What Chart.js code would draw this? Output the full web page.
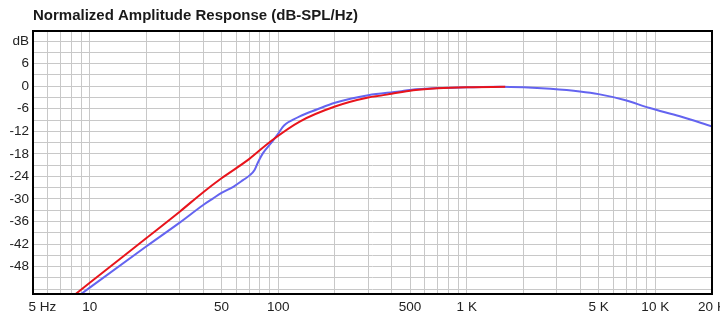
<!DOCTYPE html>
<html>
<head>
<meta charset="utf-8">
<script src="https://cdn.jsdelivr.net/npm/chart.js@4.4.1/dist/chart.umd.min.js"></script>
<style>
  html, body { margin: 0; padding: 0; background: #fff; }
</style>
</head>
<body>
<canvas id="ampChart" width="720" height="313"></canvas>
<script>
// red curve (Hz / dB)
var redFreq = [8, 10, 20, 30, 40, 50, 70, 92, 130, 200, 300, 350, 400, 520, 700, 1000, 1600];
var redDb = [-56.2, -52.3, -40.4, -33.4, -28.2, -24.5, -19.4, -14.5, -9.4, -5.4, -3.0, -2.5, -2.0, -1.1, -0.55, -0.25, -0.15];

// blue curve (Hz / dB)
var blueFreq = [8, 10, 20, 30, 40, 45, 50, 58, 65, 71, 75, 78, 83, 92, 100, 105, 110, 120, 130, 160, 200, 300, 440, 500, 700, 1000, 1500, 2000, 2780, 3980, 5000, 6800, 9350, 13500, 20000];
var blueDb = [-57.2, -53.6, -42.6, -36.3, -31.6, -29.9, -28.4, -26.7, -25.0, -23.6, -22.2, -20.3, -17.8, -15.0, -12.6, -11.0, -10.0, -8.9, -8.0, -6.2, -4.4, -2.4, -1.4, -1.0, -0.5, -0.3, -0.15, -0.3, -0.7, -1.4, -2.1, -3.6, -5.8, -8.0, -10.7];

// x axis grid / labels
var xTickVals = [5, 6, 7, 8, 9, 10, 20, 30, 40, 50, 60, 70, 80, 90, 100, 200, 300, 400, 500, 600, 700, 800, 900,
  1000, 2000, 3000, 4000, 5000, 6000, 7000, 8000, 9000, 10000, 20000];
var xTickLabels = ["     5 Hz", "", "", "", "", "10", "", "", "", "50", "", "", "", "", "100", "", "", "", "500", "", "", "", "",
  "1 K", "", "", "", "5 K", "", "", "", "", "10 K", "20 K"];

// y axis grid / labels
var yTickVals = [12, 9, 6, 3, 0, -3, -6, -9, -12, -15, -18, -21, -24, -27, -30, -33, -36, -39, -42, -45, -48, -51, -54];
var yTickLabels = ["dB", "", "6", "", "0", "", "-6", "", "-12", "", "-18", "", "-24", "", "-30", "", "-36", "", "-42", "", "-48", "", ""];

function toPoints(fs, ds) {
  return fs.map(function (f, i) { return { x: f, y: ds[i] }; });
}

// black box round the plot, title lined up with it
var framePlugin = {
  id: "frame",
  afterLayout: function (chart) {
    if (chart.titleBlock) chart.titleBlock.left = 33;
  },
  afterDatasetsDraw: function (chart) {
    var a = chart.chartArea, ctx = chart.ctx;
    ctx.save();
    ctx.strokeStyle = "#000";
    ctx.lineWidth = 2;
    ctx.strokeRect(a.left, a.top, a.right - a.left, a.bottom - a.top);
    ctx.restore();
  }
};

var tickFont = { family: "Liberation Sans, Arial, sans-serif", size: 13.5 };

var ctx = document.getElementById("ampChart").getContext("2d");
var ampChart = new Chart(ctx, {
  type: "line",
  data: {
    datasets: [
      {
        label: "red",
        data: toPoints(redFreq, redDb),
        borderColor: "#e8141c",
        borderWidth: 2,
        pointRadius: 0,
        cubicInterpolationMode: "monotone",
        order: 1
      },
      {
        label: "blue",
        data: toPoints(blueFreq, blueDb),
        borderColor: "#6464f0",
        borderWidth: 2,
        pointRadius: 0,
        cubicInterpolationMode: "monotone",
        order: 2
      }
    ]
  },
  options: {
    responsive: false,
    animation: false,
    events: [],
    layout: { padding: { left: 0, right: 8, top: 0, bottom: 0 } },
    plugins: {
      legend: { display: false },
      tooltip: { enabled: false },
      title: {
        display: true,
        text: "Normalized Amplitude Response (dB-SPL/Hz)",
        align: "start",
        color: "#1a1a1a",
        font: { family: "Liberation Sans, Arial, sans-serif", size: 15, weight: "bold" },
        padding: { top: 7, bottom: 6 }
      }
    },
    scales: {
      x: {
        type: "logarithmic",
        min: 5,
        max: 20000,
        border: { display: false },
        grid: { color: "#c8c8c8", lineWidth: 1, drawTicks: false },
        afterBuildTicks: function (scale) {
          scale.ticks = xTickVals.map(function (v) { return { value: v }; });
        },
        afterFit: function (scale) {
          scale.height = 19;
          scale.paddingLeft = 0;
          scale.paddingRight = 0;
        },
        ticks: {
          autoSkip: false,
          maxRotation: 0,
          padding: 5,
          color: "#222",
          font: tickFont,
          callback: function (value, index) { return xTickLabels[index]; }
        }
      },
      y: {
        type: "linear",
        min: -55.3,
        max: 14.7,
        border: { display: false },
        grid: { color: "#c8c8c8", lineWidth: 1, drawTicks: false },
        afterBuildTicks: function (scale) {
          scale.ticks = yTickVals.map(function (v) { return { value: v }; });
        },
        afterFit: function (scale) {
          scale.width = 33;
          scale.paddingTop = 0;
          scale.paddingBottom = 0;
        },
        ticks: {
          autoSkip: false,
          padding: 4,
          color: "#222",
          font: tickFont,
          callback: function (value, index) { return yTickLabels[index]; }
        }
      }
    }
  },
  plugins: [framePlugin]
});
</script>
</body>
</html>
